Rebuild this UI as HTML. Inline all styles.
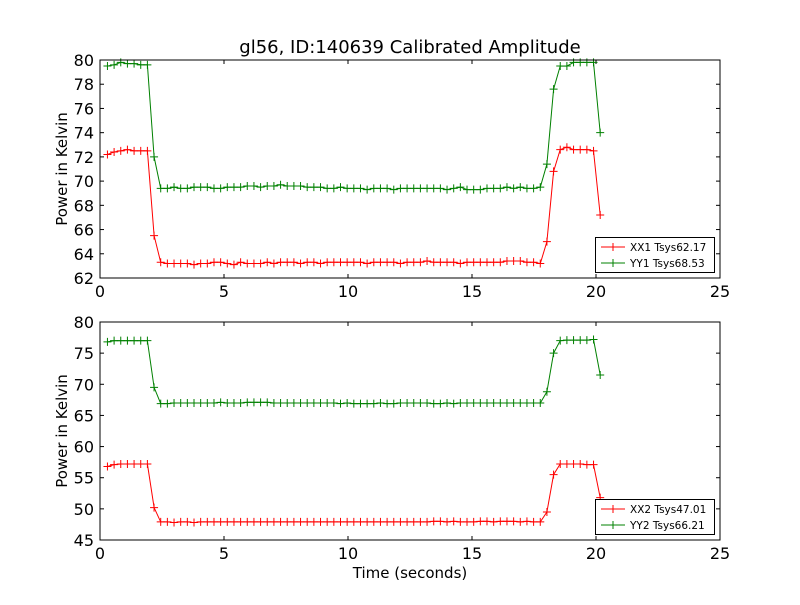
<!DOCTYPE html>
<html><head><meta charset="utf-8"><style>
body{margin:0;background:#fff}
svg text{font-family:"DejaVu Sans","Liberation Sans",sans-serif;fill:#000}
</style></head><body>
<svg id="c" width="800" height="600" xmlns="http://www.w3.org/2000/svg">
<rect width="800" height="600" fill="#fff"/>
<text x="410" y="53" font-size="18" text-anchor="middle">gl56, ID:140639 Calibrated Amplitude</text>
<text x="410" y="578" font-size="15" text-anchor="middle">Time (seconds)</text>
<text transform="translate(67,169) rotate(-90)" font-size="15" text-anchor="middle">Power in Kelvin</text>
<text transform="translate(67,431) rotate(-90)" font-size="15" text-anchor="middle">Power in Kelvin</text>
</svg>
<script>
const xTicks=[0,5,10,15,20,25];
const topYTicks=[62,64,66,68,70,72,74,76,78,80];
const botYTicks=[45,50,55,60,65,70,75,80];
const sampleStart=0.3, sampleStep=0.2685, sampleCount=75;
const xx1=[72.2,72.4,72.5,72.6,72.5,72.5,72.5,65.5,
63.3,63.2,63.2,63.2,63.2,63.1,63.2,63.2,63.3,63.3,
63.2,63.1,63.3,63.2,63.2,63.2,63.3,63.2,63.3,63.3,
63.3,63.2,63.3,63.3,63.2,63.3,63.3,63.3,63.3,63.3,
63.3,63.2,63.3,63.3,63.3,63.3,63.2,63.3,63.3,63.3,
63.4,63.3,63.3,63.3,63.3,63.2,63.3,63.3,63.3,63.3,
63.3,63.3,63.4,63.4,63.4,63.3,63.3,63.2,
65.0,70.8,72.6,72.8,72.6,72.6,72.6,72.5,67.2];
const yy1=[79.5,79.6,79.8,79.7,79.7,79.6,79.6,72.0,
69.4,69.4,69.5,69.4,69.4,69.5,69.5,69.5,69.4,69.4,
69.5,69.5,69.5,69.6,69.6,69.5,69.6,69.6,69.7,69.6,
69.6,69.6,69.5,69.5,69.5,69.4,69.4,69.5,69.4,69.4,
69.4,69.3,69.4,69.4,69.4,69.3,69.4,69.4,69.4,69.4,
69.4,69.4,69.4,69.3,69.4,69.5,69.3,69.3,69.3,69.4,
69.4,69.4,69.5,69.4,69.5,69.4,69.4,69.5,
71.4,77.6,79.5,79.5,79.8,79.8,79.8,79.8,74.0];
const xx2=[56.8,57.1,57.2,57.2,57.2,57.2,57.2,50.2,
47.9,47.9,47.8,47.9,47.9,47.8,47.9,47.9,47.9,47.9,
47.9,47.9,47.9,47.9,47.9,47.9,47.9,47.9,47.9,47.9,
47.9,47.9,47.9,47.9,47.9,47.9,47.9,47.9,47.9,47.9,
47.9,47.9,47.9,47.9,47.9,47.9,47.9,47.9,47.9,47.9,
47.9,48.0,48.0,47.9,48.0,47.9,47.9,47.9,48.0,48.0,
47.9,48.0,48.0,48.0,47.9,48.0,47.9,47.9,
49.5,55.5,57.2,57.2,57.2,57.2,57.1,57.1,51.8];
const yy2=[76.8,77.0,77.0,77.0,77.0,77.0,77.0,69.5,
66.9,66.9,67.0,67.0,67.0,67.0,67.0,67.0,67.0,67.1,
67.0,67.0,67.0,67.1,67.1,67.1,67.1,67.0,67.0,67.0,
67.0,67.0,67.0,67.0,67.0,67.0,67.0,66.9,67.0,66.9,
66.9,66.9,66.9,67.0,66.9,66.9,67.0,67.0,67.0,67.0,
67.0,66.9,66.9,67.0,66.9,67.0,67.0,67.0,67.0,67.0,
67.0,67.0,67.0,67.0,67.0,67.0,67.0,67.0,
68.8,75.0,77.0,77.1,77.1,77.1,77.1,77.2,71.5];
const legendTop=["XX1 Tsys62.17","YY1 Tsys68.53"];
const legendBot=["XX2 Tsys47.01","YY2 Tsys66.21"];

const NS="http://www.w3.org/2000/svg";
const svg=document.getElementById('c');
function mk(t,a,p){const e=document.createElementNS(NS,t);for(const k in a)e.setAttribute(k,a[k]);(p||svg).appendChild(e);return e;}
const times=[];for(let i=0;i<sampleCount;i++)times.push(sampleStart+i*sampleStep);

function panel(top,ymin,ymax,yTicks,series,labels,name){
  const L=100,R=720,T=top,B=top+218;
  const sx=v=>L+(v-0)/(25-0)*(R-L);
  const sy=v=>B-(v-ymin)/(ymax-ymin)*(B-T);
  const g=mk('g',{});
  
  
  xTicks.forEach(t=>{const x=sx(t);
    mk('line',{x1:x,x2:x,y1:B,y2:B-4,stroke:'#000'},g);
    mk('line',{x1:x,x2:x,y1:T,y2:T+4,stroke:'#000'},g);
    const tx=mk('text',{x:x,y:B+19,'font-size':16,'text-anchor':'middle'},g);tx.textContent=t;
    
    
  });
  yTicks.forEach(t=>{const y=sy(t);
    mk('line',{x1:L,x2:L+4,y1:y,y2:y,stroke:'#000'},g);
    mk('line',{x1:R,x2:R-4,y1:y,y2:y,stroke:'#000'},g);
    const tx=mk('text',{x:L-6,y:y+6,'font-size':16,'text-anchor':'end'},g);tx.textContent=t;
    
    
  });
  series.forEach(s=>{
    const pts=s.v.map((v,i)=>sx(times[i]).toFixed(1)+','+sy(v).toFixed(1)).join(' ');
    const pl=mk('polyline',{points:pts,fill:'none',stroke:s.c,'stroke-width':1},g);
    
    
    s.v.forEach((v,i)=>{const x=sx(times[i]),y=sy(v);
      mk('path',{d:`M${x-4},${y}H${x+4}M${x},${y-4}V${y+4}`,stroke:s.c,'stroke-width':1},g);});
  });
  mk('rect',{x:L,y:T,width:R-L,height:B-T,fill:'none',stroke:'#000','stroke-width':1},g);
  const lg=mk('g',{},g);
  
  
  mk('rect',{x:595.5,y:B-40.5,width:119,height:35,fill:'#fff',stroke:'#000'},lg);
  labels.forEach((lab,i)=>{const y=B-31+i*16;
    mk('line',{x1:601,x2:625,y1:y,y2:y,stroke:series[i].c},lg);
    mk('path',{d:`M609,${y}H617M613,${y-4}V${y+4}`,stroke:series[i].c},lg);
    const tx=mk('text',{x:630,y:y+4,'font-size':10.5},lg);tx.textContent=lab;
    
    
  });
}
panel(60,62,80,topYTicks,[{v:xx1,c:'#ff0000',n:'xx1-line'},{v:yy1,c:'#008000',n:'yy1-line'}],legendTop,'top-panel');
panel(322,45,80,botYTicks,[{v:xx2,c:'#ff0000',n:'xx2-line'},{v:yy2,c:'#008000',n:'yy2-line'}],legendBot,'bottom-panel');
</script>
</body></html>
